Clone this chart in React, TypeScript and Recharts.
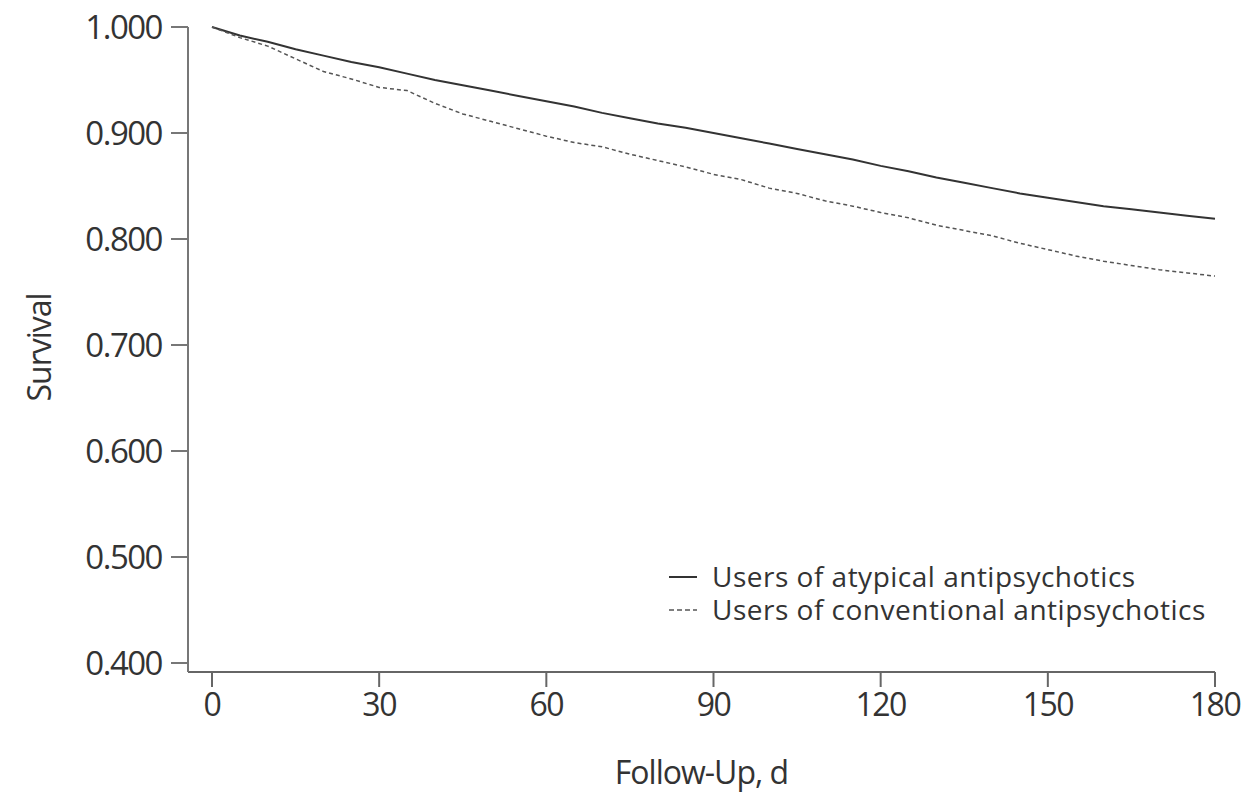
import { LineChart, Line, XAxis, YAxis, Legend } from 'recharts';

const days = [0, 5, 10, 15, 20, 25, 30, 35, 40, 45, 50, 55, 60, 65, 70, 75, 80, 85, 90, 95, 100, 105, 110, 115, 120, 125, 130, 135, 140, 145, 150, 155, 160, 165, 170, 175, 180];

const atypical = [1.0, 0.992, 0.986, 0.979, 0.973, 0.967, 0.962, 0.956, 0.950, 0.945, 0.940, 0.935, 0.930, 0.925, 0.919, 0.914, 0.909, 0.905, 0.900, 0.895, 0.890, 0.885, 0.880, 0.875, 0.869, 0.864, 0.858, 0.853, 0.848, 0.843, 0.839, 0.835, 0.831, 0.828, 0.825, 0.822, 0.819];

const conventional = [1.0, 0.990, 0.982, 0.970, 0.958, 0.951, 0.943, 0.940, 0.928, 0.918, 0.911, 0.904, 0.897, 0.891, 0.887, 0.880, 0.874, 0.868, 0.861, 0.856, 0.848, 0.843, 0.836, 0.831, 0.825, 0.820, 0.813, 0.808, 0.803, 0.796, 0.790, 0.784, 0.779, 0.775, 0.771, 0.768, 0.765];

const xTicks = [0, 30, 60, 90, 120, 150, 180];
const yTicks = [0.4, 0.5, 0.6, 0.7, 0.8, 0.9, 1.0];

const seriesNames = ['Users of atypical antipsychotics', 'Users of conventional antipsychotics'];

const data = days.map((d, i) => ({ day: d, atypical: atypical[i], conventional: conventional[i] }));

const font = '"Open Sans", sans-serif';

const LegendBox = () => (
  <div style={{ fontFamily: font, fontSize: 28, color: '#333', letterSpacing: 0.5, lineHeight: '33px' }}>
    {seriesNames.map((name, i) => (
      <div key={name} style={{ display: 'flex', alignItems: 'center', whiteSpace: 'nowrap', height: 33 }}>
        <svg width={43} height={20}>
          <line x1={0} y1={10} x2={28} y2={10} stroke={i === 0 ? '#333' : '#555'} strokeWidth={i === 0 ? 2 : 1.5} strokeDasharray={i === 0 ? undefined : '5 3'} />
        </svg>
        <span>{name}</span>
      </div>
    ))}
  </div>
);

export default function App() {
  return (
    <LineChart width={1233} height={786} data={data} margin={{ top: 19, right: 26, bottom: 22, left: 100 }}>
      <XAxis
        dataKey="day"
        type="number"
        domain={[0, 180]}
        ticks={xTicks}
        padding={{ left: 24, right: 0 }}
        stroke="#666"
        strokeWidth={2}
        tickSize={15}
        tickMargin={6}
        height={100}
        tick={{ fill: '#333', fontSize: 32, fontFamily: font, letterSpacing: -1.5 }}
        label={{ value: 'Follow-Up, d', position: 'insideBottom', offset: -12, fill: '#333', fontSize: 32, fontFamily: font, letterSpacing: -1 }}
      />
      <YAxis
        type="number"
        domain={[0.4, 1.0]}
        ticks={yTicks}
        padding={{ top: 0, bottom: 9 }}
        tickFormatter={(v: number) => v.toFixed(3)}
        stroke="#777"
        strokeWidth={2}
        tickSize={17}
        tickMargin={9}
        width={80}
        tick={{ fill: '#333', fontSize: 33, fontFamily: font, letterSpacing: -1.5 }}
        label={{ value: 'Survival', angle: -90, position: 'insideLeft', dx: -73, dy: 52, fill: '#333', fontSize: 32, fontFamily: font, letterSpacing: -1 }}
      />
      <Legend layout="vertical" align="center" verticalAlign="middle" content={<LegendBox />} wrapperStyle={{ left: 661, top: 552, width: 'auto' }} />
      <Line type="linear" dataKey="atypical" name={seriesNames[0]} stroke="#333" strokeWidth={2} dot={false} isAnimationActive={false} />
      <Line type="linear" dataKey="conventional" name={seriesNames[1]} stroke="#555" strokeWidth={1.5} strokeDasharray="4 3" dot={false} isAnimationActive={false} />
    </LineChart>
  );
}
